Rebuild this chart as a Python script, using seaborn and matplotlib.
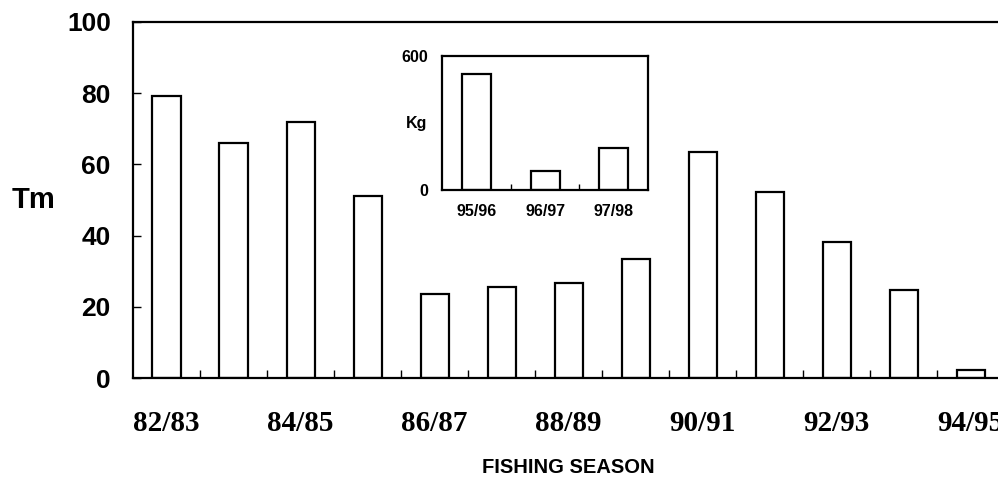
import matplotlib
matplotlib.use('Agg')
import matplotlib.pyplot as plt
import seaborn as sns
import pandas as pd

# Main catch per season (Tm)
seasons = ['82/83', '83/84', '84/85', '85/86', '86/87', '87/88', '88/89',
           '89/90', '90/91', '91/92', '92/93', '93/94', '94/95']
catch_tm = [79.3, 66.0, 72.0, 51.0, 23.6, 25.6, 26.7, 33.4, 63.6, 52.2, 38.2, 24.8, 2.3]

# Inset catch (Kg)
inset_seasons = ['95/96', '96/97', '97/98']
catch_kg = [520, 85, 188]

y_ticks = [0, 20, 40, 60, 80, 100]
inset_y_ticks = [0, 600]

main_df = pd.DataFrame({'season': seasons, 'catch': catch_tm})
inset_df = pd.DataFrame({'season': inset_seasons, 'catch': catch_kg})

sns.set_style('ticks')
plt.rcParams['font.family'] = ['Liberation Sans', 'DejaVu Sans']
plt.rcParams['axes.linewidth'] = 1.6
for key in ['text.color', 'axes.labelcolor', 'xtick.color', 'ytick.color', 'axes.edgecolor']:
    plt.rcParams[key] = 'black'

fig = plt.figure(figsize=(9.98, 4.8), dpi=100)

# main chart (right edge runs off the picture like the scan)
ax = fig.add_axes([0.1333, 0.2125, 0.873, 0.7417])
sns.barplot(data=main_df, x='season', y='catch', order=seasons, color='white',
            edgecolor='black', linewidth=1.6, width=0.42, saturation=1, ax=ax)
ax.set_xlim(-0.5, len(seasons) - 0.5)
ax.set_ylim(0, 100)
ax.set_yticks(y_ticks)
ax.set_yticklabels([str(t) for t in y_ticks], fontsize=19, fontweight='bold')
ax.tick_params(axis='y', direction='in', length=6, width=1, pad=16)
ax.set_xticks(range(0, len(seasons), 2))
ax.set_xticklabels(seasons[::2], fontsize=21, fontweight='bold',
                   family=['Liberation Serif', 'DejaVu Serif'])
ax.tick_params(axis='x', which='major', length=0, pad=23)
ax.set_xticks([i + 0.5 for i in range(len(seasons) - 1)], minor=True)
ax.tick_params(axis='x', which='minor', direction='in', length=6, width=1)
ax.set_xlabel('FISHING SEASON', fontsize=14.5, fontweight='bold', labelpad=15)
ax.set_ylabel('Tm', fontsize=21, fontweight='bold', rotation=0, labelpad=8, va='center', ha='right')
for s in ax.spines.values():
    s.set_visible(True)
    s.set_linewidth(1.6)

# inset chart
ins = fig.add_axes([0.443, 0.604, 0.2064, 0.279])
sns.barplot(data=inset_df, x='season', y='catch', order=inset_seasons, color='white',
            edgecolor='black', linewidth=1.6, width=0.42, saturation=1, ax=ins)
ins.set_xlim(-0.5, len(inset_seasons) - 0.5)
ins.set_ylim(0, 600)
ins.set_yticks(inset_y_ticks)
ins.set_yticklabels([str(t) for t in inset_y_ticks], fontsize=11.5, fontweight='bold')
ins.tick_params(axis='y', length=0, pad=10)
ins.set_xticks(range(len(inset_seasons)))
ins.set_xticklabels(inset_seasons, fontsize=11.5, fontweight='bold')
ins.tick_params(axis='x', which='major', length=0, pad=10)
ins.set_xticks([0.5, 1.5], minor=True)
ins.tick_params(axis='x', which='minor', direction='in', length=4, width=1)
ins.set_xlabel('')
ins.set_ylabel('Kg', fontsize=11.5, fontweight='bold', rotation=0, va='center', ha='right')
ins.yaxis.set_label_coords(-0.07, 0.5)
for s in ins.spines.values():
    s.set_visible(True)
    s.set_linewidth(1.6)

fig.savefig('out.png', dpi=100)
